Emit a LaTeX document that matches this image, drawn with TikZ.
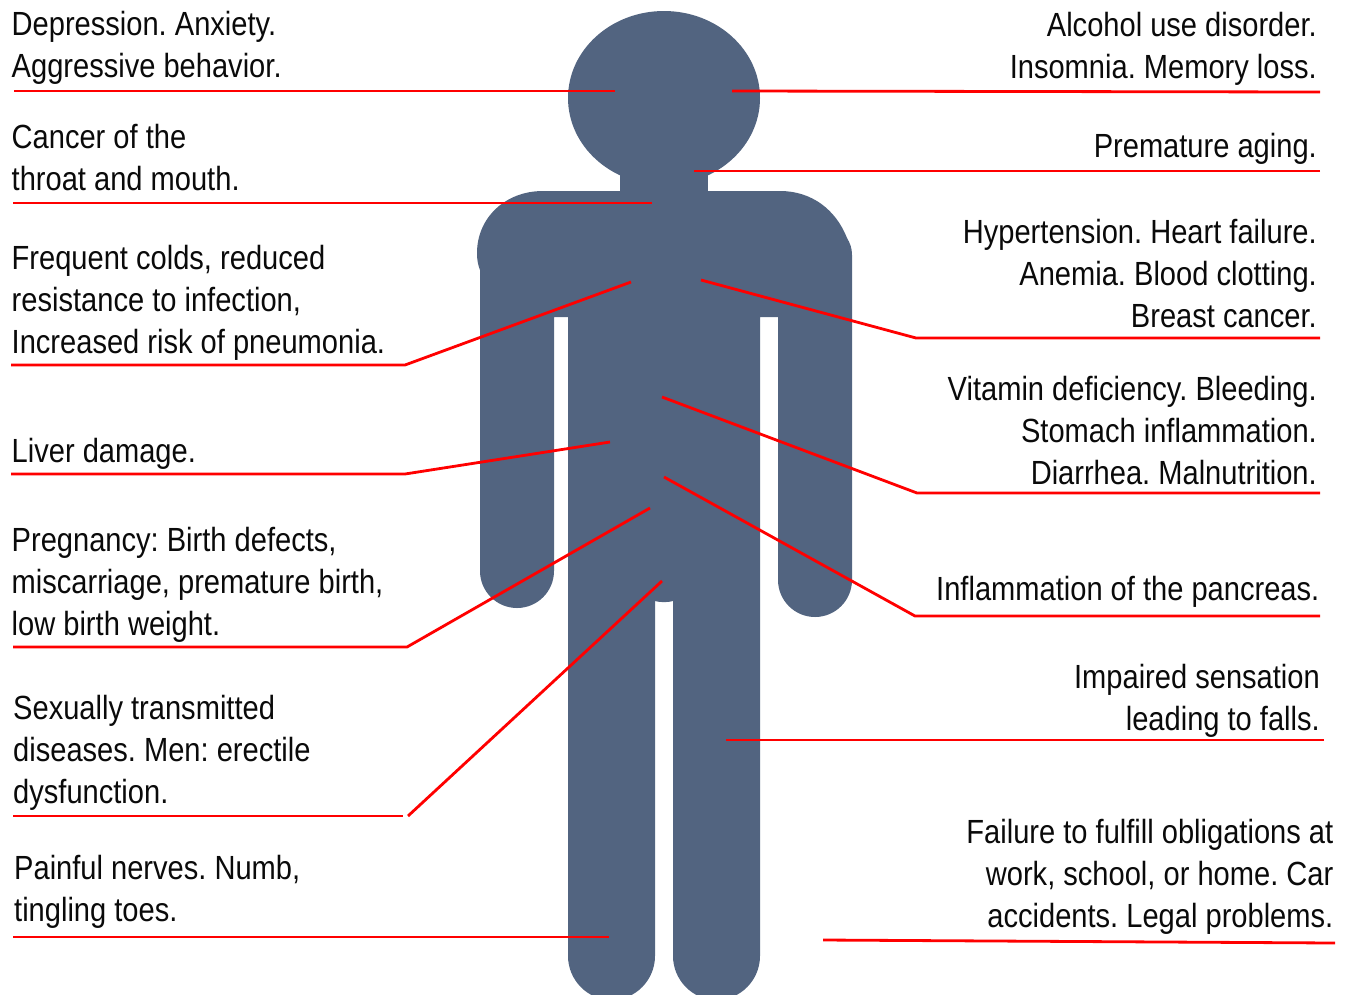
\documentclass[tikz,border=0pt]{standalone}
\usepackage{fontspec}
\setmainfont[FakeStretch=0.868]{Liberation Sans}
\tikzset{
  bodyfill/.style={fill=bodyblue,draw=none},
  leader/.style={draw=red,line width=2.8pt,line join=miter},
  lefttext/.style={anchor=base west,align=left,inner sep=0pt,text=textblack,font=\fontsize{33.5}{41.8}\selectfont\frenchspacing},
  righttext/.style={anchor=base east,align=right,inner sep=0pt,text=textblack,font=\fontsize{33.5}{41.8}\selectfont\frenchspacing},
}
\definecolor{bodyblue}{HTML}{526480}
\definecolor{textblack}{HTML}{0A0A0A}
\begin{document}
\begin{tikzpicture}[x=1pt,y=-1pt]
\useasboundingbox (0,0) rectangle (1351,994);
\begin{scope}
\clip (0,0) rectangle (1351,994);
\fill[bodyfill] (664,98) ellipse [x radius=96,y radius=87];
\fill[bodyfill] (620,165) rectangle (708,200);
\fill[bodyfill] (620,191) -- (543,191) .. controls (505,191) and (477,218) .. (477,253)
  .. controls (477,260) and (478,265) .. (480,270) -- (480,571)
  .. controls (480,591.4) and (496.6,608) .. (517,608)
  .. controls (537.4,608) and (554,591.4) .. (554,571) -- (554,317) -- (568,317) -- (568,956)
  .. controls (568,980) and (587.5,1000) .. (611.5,1000)
  .. controls (635.5,1000) and (655,980) .. (655,956) -- (655,601)
  .. controls (660,602.5) and (668,602.5) .. (673,601) -- (673,956)
  .. controls (673,980) and (692.5,1000) .. (716.5,1000)
  .. controls (740.5,1000) and (760,980) .. (760,956) -- (760,317) -- (778,317) -- (778,580)
  .. controls (778,600.4) and (794.6,617) .. (815,617)
  .. controls (835.4,617) and (852,600.4) .. (852,580) -- (852,255)
  .. controls (852,248) and (850,243) .. (847,238)
  .. controls (836,210) and (812,191) .. (780,191) -- (708,191) -- cycle;
\end{scope}

% text blocks
\node[lefttext] (t1) at (11.5,77) {Depression. Anxiety.\\Aggressive behavior.};
\node[lefttext] (t2) at (11.5,190) {Cancer of the\\throat and mouth.};
\node[lefttext] (t3) at (11.5,353.5) {Frequent colds, reduced\\resistance to infection,\\Increased risk of pneumonia.};
\node[lefttext] (t4) at (11.5,462) {Liver damage.};
\node[lefttext] (t5) at (11.5,635.5) {Pregnancy: Birth defects,\\miscarriage, premature birth,\\low birth weight.};
\node[lefttext] (t6) at (13,803.5) {Sexually transmitted\\diseases. Men: erectile\\dysfunction.};
\node[lefttext] (t7) at (14,921.5) {Painful nerves. Numb,\\tingling toes.};
\node[righttext] (r1) at (1317,78.5) {Alcohol use disorder.\\Insomnia. Memory loss.};
\node[righttext] (r2) at (1317,157) {Premature aging.};
\node[righttext] (r3) at (1317,327) {Hypertension. Heart failure.\\Anemia. Blood clotting.\\Breast cancer.};
\node[righttext] (r4) at (1317,484) {Vitamin deficiency. Bleeding.\\Stomach inflammation.\\Diarrhea. Malnutrition.};
\node[righttext] (r5) at (1319.5,600) {Inflammation of the pancreas.};
\node[righttext] (r6) at (1320,730) {Impaired sensation\\leading to falls.};
\node[righttext] (r7) at (1333.5,927) {Failure to fulfill obligations at\\work, school, or home. Car\\accidents. Legal problems.};

% leader end points
\coordinate (a1) at (14,91);   \coordinate (b1) at (615,91);
\coordinate (a2) at (13,203);  \coordinate (b2) at (652,203);
\coordinate (a3) at (11,365);  \coordinate (k3) at (405,365); \coordinate (b3) at (631,282);
\coordinate (a4) at (11,474);  \coordinate (k4) at (405,474); \coordinate (b4) at (610,442);
\coordinate (a5) at (13,647);  \coordinate (k5) at (407,647); \coordinate (b5) at (650,508);
\coordinate (a6) at (13,816);  \coordinate (k6) at (403,816); \coordinate (k6b) at (408,816); \coordinate (b6) at (662,581);
\coordinate (a7) at (13,937);  \coordinate (b7) at (609,937);
\coordinate (c1) at (1320,92); \coordinate (d1) at (732,91);
\coordinate (c2) at (1320,171);\coordinate (d2) at (694,171);
\coordinate (c3) at (1320,338);\coordinate (k13) at (916,338); \coordinate (d3) at (701,280);
\coordinate (c4) at (1320,493);\coordinate (k14) at (917,493); \coordinate (d4) at (662,397);
\coordinate (c5) at (1320,616);\coordinate (k15) at (915,616); \coordinate (d5) at (664,477);
\coordinate (c6) at (1324,740);\coordinate (d6) at (726,740);
\coordinate (c7) at (1335,943);\coordinate (d7) at (823,940);

\draw[leader] (a1) -- (b1);
\draw[leader] (a2) -- (b2);
\draw[leader] (a3) -- (k3) -- (b3);
\draw[leader] (a4) -- (k4) -- (b4);
\draw[leader] (a5) -- (k5) -- (b5);
\draw[leader] (a6) -- (k6);
\draw[leader] (k6b) -- (b6);
\draw[leader] (a7) -- (b7);
\draw[leader] (c1) -- (d1);
\draw[leader] (c2) -- (d2);
\draw[leader] (c3) -- (k13) -- (d3);
\draw[leader] (c4) -- (k14) -- (d4);
\draw[leader] (c5) -- (k15) -- (d5);
\draw[leader] (c6) -- (d6);
\draw[leader] (c7) -- (d7);
\end{tikzpicture}
\end{document}
